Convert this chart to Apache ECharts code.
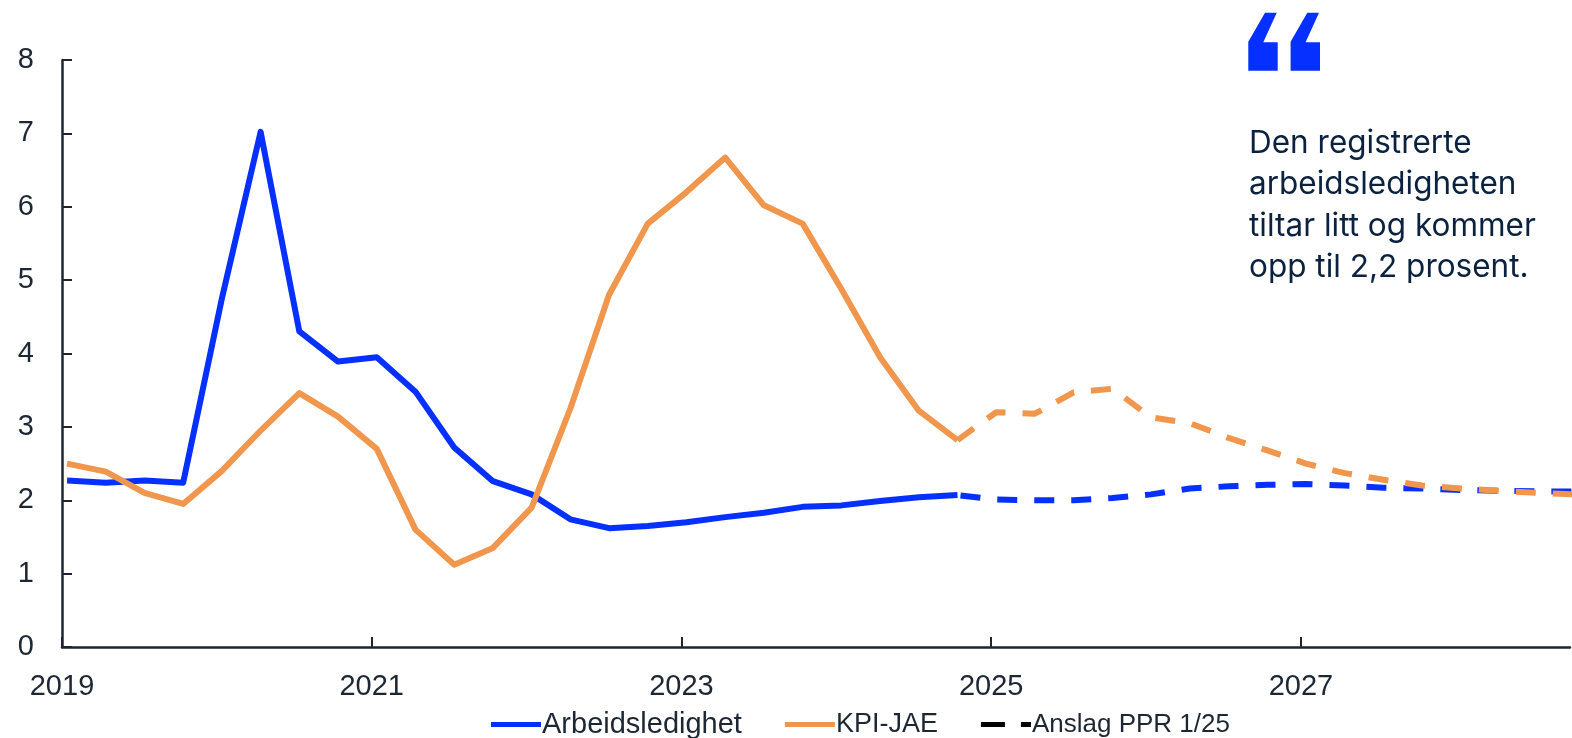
<!DOCTYPE html>
<html><head><meta charset="utf-8">
<style>html,body{margin:0;padding:0;background:#fff}#c{width:1572px;height:738px}</style>
<script src="https://cdn.jsdelivr.net/npm/echarts@6/dist/echarts.min.js"></script>
</head><body><div id="c"></div>
<script>
const startYear = 2019;
const lastActual = 23;
const yTicks = [0,1,2,3,4,5,6,7,8];
const arbeidsledighet = [2.27,2.24,2.27,2.24,4.75,7.02,4.3,3.89,3.95,3.48,2.72,2.26,2.08,1.74,1.62,1.65,1.7,1.77,1.83,1.91,1.93,1.99,2.04,2.07,2.01,2.0,2.0,2.03,2.08,2.16,2.19,2.21,2.22,2.2,2.17,2.16,2.14,2.13,2.12,2.12];
const kpiJae = [2.5,2.39,2.1,1.95,2.4,2.95,3.46,3.14,2.7,1.6,1.12,1.35,1.9,3.25,4.8,5.77,6.2,6.67,6.02,5.77,4.88,3.95,3.22,2.82,3.2,3.18,3.47,3.52,3.13,3.05,2.85,2.68,2.5,2.37,2.28,2.2,2.16,2.13,2.1,2.08];
const BLUE='#0530ff', ORANGE='#f0964d', INK='#1c2733';
const pointOffset = 0.13;
const pairs = (a,from,to)=>a.slice(from,to).map((v,i)=>[from+i+pointOffset,v]);
const solid=(name,a,color)=>({name,type:'line',data:pairs(a,0,lastActual+1),showSymbol:false,symbol:'none',z:3,lineStyle:{color,width:6,cap:'butt',join:'round'},itemStyle:{color}});
const dashed=(name,a,color,z,off)=>({name,type:'line',data:pairs(a,lastActual,a.length),showSymbol:false,symbol:'none',z,lineStyle:{color,width:6,type:[20,17],dashOffset:off,cap:'butt',join:'round'},itemStyle:{color}});
const quote = (dx)=>({type:'polygon',shape:{points:[[1276.7+dx,12.7],[1265+dx,12.7],[1248.3+dx,41.7],[1248.3+dx,70.7],[1277.7+dx,70.7],[1277.7+dx,42.3],[1263.3+dx,42.3]]},style:{fill:BLUE}});
const FONT='Liberation Sans', SIZE=29;
const chart = echarts.init(document.getElementById('c'),null,{renderer:'canvas'});
chart.setOption({
  animation:false,
  backgroundColor:'#fff',
  grid:{left:62,top:60,width:1508,height:587,containLabel:false},
  xAxis:{type:'value',min:0,max:38.95,interval:8,
    axisLine:{show:true,onZero:false,lineStyle:{color:INK,width:2.5}},
    axisTick:{show:true,inside:true,length:10,lineStyle:{color:INK,width:2}},
    splitLine:{show:false},
    axisLabel:{showMaxLabel:false,margin:25,color:INK,fontFamily:FONT,fontSize:SIZE,formatter:v=>String(startYear+v/4)}},
  yAxis:{type:'value',min:yTicks[0],max:yTicks[yTicks.length-1],interval:1,
    axisLine:{show:true,lineStyle:{color:INK,width:2.5}},
    axisTick:{show:true,inside:true,length:10,lineStyle:{color:INK,width:2}},
    splitLine:{show:false},
    axisLabel:{margin:28,padding:[5,0,0,0],color:INK,fontFamily:FONT,fontSize:SIZE}},
  legend:{show:true,top:705,left:486,itemGap:43,itemWidth:50,itemHeight:5,
    textStyle:{color:INK,fontFamily:FONT,fontSize:SIZE,padding:[0,0,0,-4]},
    data:[
      {name:'Arbeidsledighet',icon:'rect',textStyle:{fontSize:29}},
      {name:'KPI-JAE',icon:'rect',textStyle:{fontSize:27}},
      {name:'Anslag PPR 1/25',icon:'path://M0 0H24V5H0Z M40 0H50V5H40Z',textStyle:{fontSize:26}}]},
  series:[
    solid('Arbeidsledighet',arbeidsledighet,BLUE),
    dashed('Arbeidsledighet anslag',arbeidsledighet,BLUE,3,-3),
    solid('KPI-JAE',kpiJae,ORANGE),
    dashed('KPI-JAE anslag',kpiJae,ORANGE,4,0),
    {name:'Anslag PPR 1/25',type:'line',data:[],symbol:'none',itemStyle:{color:'#000'},lineStyle:{color:'#000'}}
  ],
  graphic:[quote(0),quote(42.3),
    {type:'text',left:1249,top:122.5,style:{text:'Den registrerte\narbeidsledigheten\ntiltar litt og kommer\nopp til 2,2 prosent.',fill:'#0a2240',font:'31.5px Inter',lineHeight:41.5}}]
});
</script></body></html>
